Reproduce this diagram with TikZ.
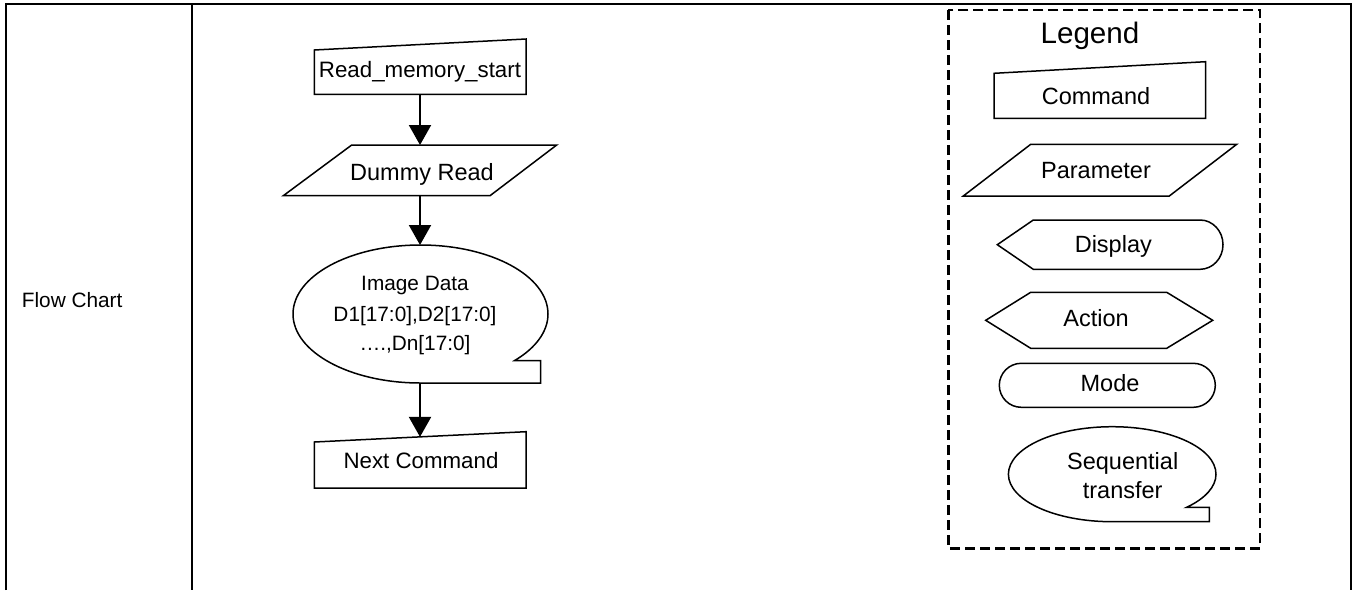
\documentclass[tikz,border=0pt]{standalone}
\usepackage{fontspec}
\setmainfont{Liberation Sans}
\usetikzlibrary{arrows.meta}
\begin{document}
\begin{tikzpicture}[x=1pt,y=1pt,
  tbl/.style={line width=2pt, line join=miter},
  shp/.style={draw=black, line width=1.5pt, line join=miter},
  flow/.style={line width=2pt, -{Triangle[width=22pt,length=20pt]}},
  legbox/.style={line width=2.5pt, dash pattern=on 10pt off 5pt},
  lbl/.style={inner sep=0pt, anchor=base},
  fmain/.style={font=\fontsize{22.3}{26}\selectfont},
  fpar/.style={font=\fontsize{23.5}{28}\selectfont},
  fsmall/.style={font=\fontsize{20.8}{25}\selectfont},
  fleg/.style={font=\fontsize{29.6}{34}\selectfont}]
\useasboundingbox (0,0) rectangle (1357,-590);
% table
\draw[tbl] (6,-590) -- (6,-4) -- (1351,-4) -- (1351,-590);
\draw[tbl] (192,-4) -- (192,-590);
\node[lbl, anchor=base west, fsmall] (fc) at (21.7,-307.7) {Flow Chart};

% main flow: command
\draw[shp] (314.3,-94.3) -- (314.3,-50) -- (526,-39) -- (526,-94.3) -- cycle;
\node[lbl, fmain] (rms) at (420,-77.3) {Read\_memory\_start};
\coordinate (rmsS) at (420,-94.3);
% parameter
\draw[shp] (283.3,-195.7) -- (351.7,-145) -- (556.7,-145) -- (490,-195.7) -- cycle;
\node[lbl, fpar] (dr) at (422,-180) {Dummy Read};
\coordinate (drN) at (420,-145);
\coordinate (drS) at (420,-195.7);
% sequential transfer
\draw[shp] (420.5,-383) arc[start angle=270, end angle=-42.4, x radius=127.5pt, y radius=69pt]
  -- (540.7,-360.5) -- (540.7,-383) -- cycle;
\node[lbl, fsmall] (id1) at (415,-290) {Image Data};
\node[lbl, fsmall] (id2) at (415,-321.5) {D1[17:0],D2[17:0]};
\node[lbl, fsmall] (id3) at (415,-350.7) {….,Dn[17:0]};
\coordinate (idN) at (420,-245);
\coordinate (idS) at (420,-383);
% next command
\draw[shp] (314.3,-488) -- (314.3,-442) -- (526,-431.7) -- (526,-488) -- cycle;
\node[lbl, fmain] (nc) at (421,-468.3) {Next Command};
\coordinate (ncN) at (420,-436.9);

\draw[flow] (rmsS) -- (drN);
\draw[flow] (drS) -- (idN);
\draw[flow] (idS) -- (ncN);

% legend
\draw[legbox] (948.3,-10) rectangle (1260,-548.3);
\node[lbl, fleg] (leg) at (1090,-43.3) {Legend};
\draw[shp] (994,-118.3) -- (994,-73.3) -- (1205.7,-61.7) -- (1205.7,-118.3) -- cycle;
\node[lbl, fpar] (lcmd) at (1096,-104) {Command};
\draw[shp] (963.3,-196) -- (1030.7,-144.3) -- (1236.7,-144.3) -- (1169.3,-196) -- cycle;
\node[lbl, fpar] (lpar) at (1096,-178.3) {Parameter};
\draw[shp] (997.3,-244.7) -- (1033.3,-220) -- (1200,-220)
  arc[start angle=90, end angle=-90, x radius=23pt, y radius=24.65pt]
  -- (1033.3,-269.3) -- cycle;
\node[lbl, fpar] (ldis) at (1113.3,-252.5) {Display};
\draw[shp] (985.7,-320.3) -- (1030.7,-292.3) -- (1166.7,-292.3) -- (1212.7,-320.3)
  -- (1166.7,-348.3) -- (1030.7,-348.3) -- cycle;
\node[lbl, fpar] (lact) at (1096,-326.7) {Action};
\draw[shp, rounded corners=22pt] (999.3,-363.3) rectangle (1215.3,-407.3);
\node[lbl, fpar] (lmode) at (1110,-391.7) {Mode};
\draw[shp] (1112.2,-521.7) arc[start angle=270, end angle=-44.4, x radius=103.8pt, y radius=47.5pt]
  -- (1209.3,-507.4) -- (1209.3,-521.7) -- cycle;
\node[lbl, fpar] (lseq1) at (1122.7,-469.3) {Sequential};
\node[lbl, fpar] (lseq2) at (1122.7,-498.7) {transfer};
\end{tikzpicture}
\end{document}
